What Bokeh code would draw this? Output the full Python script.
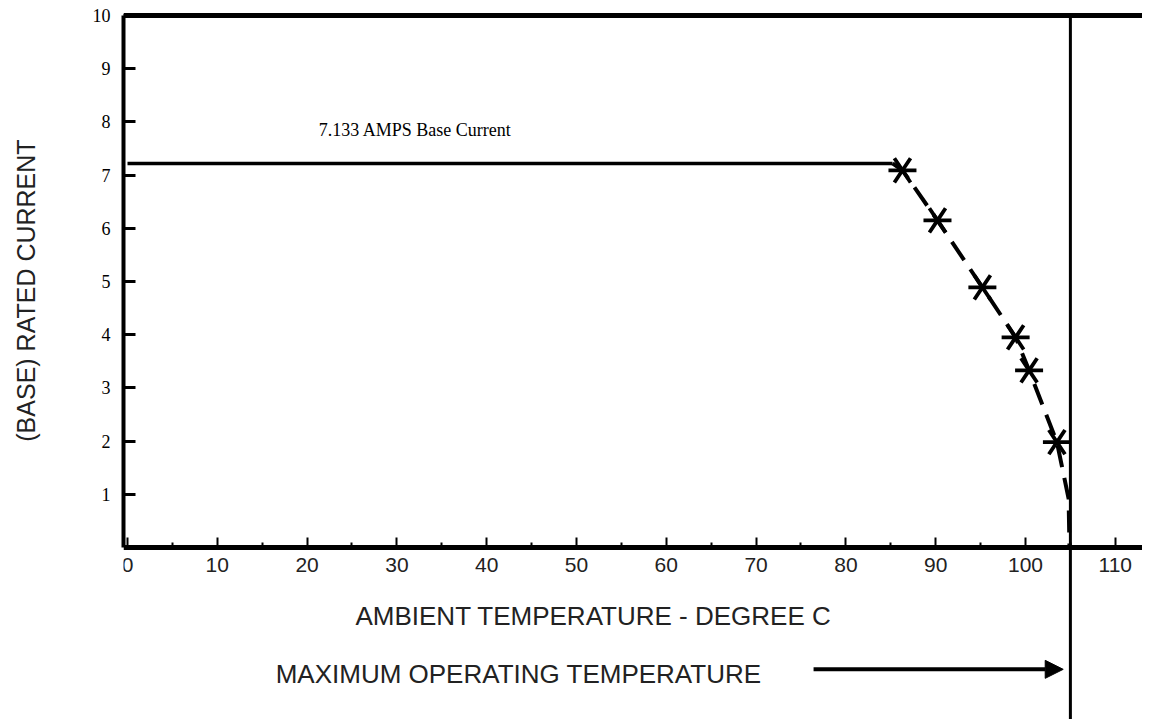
import math
from bokeh.plotting import figure
from bokeh.layouts import row
from bokeh.models import Span, Arrow, NormalHead, FixedTicker, Range1d
from bokeh.core.properties import value
from bokeh.embed import file_html
from bokeh.resources import INLINE

# ---- data ----
base_temp = [0.0, 85.2]
base_current = [7.22, 7.22]
star_temp = [86.3, 90.2, 95.2, 98.9, 100.4, 103.5]
star_current = [7.09, 6.15, 4.89, 3.95, 3.33, 1.98]
tail_temp = [104.8, 104.9]
tail_current = [0.92, 0.0]
max_temp = 105.0
top_current = 10.0
x_ticks = [0, 10, 20, 30, 40, 50, 60, 70, 80, 90, 100, 110]
x_minor = [5, 15, 25, 35, 45, 55, 65, 75, 85, 95, 105]
y_ticks = [1, 2, 3, 4, 5, 6, 7, 8, 9, 10]

curve_temp = [base_temp[-1]] + star_temp + tail_temp
curve_current = [base_current[-1]] + star_current + tail_current

LABEL_W = 45
X_START, X_END = -0.445, 113.03
Y_START, Y_END = -3.233, 10.094
yr = Range1d(Y_START, Y_END)

# narrow strip holding the vertical y-axis title
lab = figure(width=LABEL_W, height=719, x_range=(0, LABEL_W), y_range=yr,
             output_backend="svg", toolbar_location=None,
             x_axis_location=None, y_axis_location=None,
             min_border_left=0, min_border_right=0, min_border_top=10, min_border_bottom=0)
lab.grid.visible = False
lab.outline_line_color = None
lab.text(x=[25], y=[4.83], text=["(BASE) RATED CURRENT"], angle=math.pi / 2,
         text_font=value("Liberation Sans"), text_font_size="25px",
         text_align="center", text_baseline="middle", text_color="#222222")

p = figure(width=1142 - LABEL_W, height=719, x_range=(X_START, X_END), y_range=yr,
           output_backend="svg", toolbar_location=None,
           min_border_left=123 - LABEL_W, min_border_right=0, min_border_top=10, min_border_bottom=0)
p.grid.visible = False
p.outline_line_color = None
p.background_fill_color = "white"

# y axis
ya = p.yaxis[0]
ya.ticker = FixedTicker(ticks=y_ticks)
ya.bounds = (0, 10)
ya.axis_line_width = 4
ya.major_tick_in = 12
ya.major_tick_out = 0
ya.major_tick_line_width = 3
ya.minor_tick_line_color = None
ya.major_label_standoff = 13
ya.major_label_text_font = "Liberation Serif"
ya.major_label_text_font_size = "18px"
ya.major_label_text_color = "black"

# x axis, placed at current = 0 inside the frame
xa = p.xaxis[0]
xa.fixed_location = 0
xa.ticker = FixedTicker(ticks=x_ticks, minor_ticks=x_minor)
xa.axis_line_width = 5
xa.major_tick_in = 10
xa.major_tick_out = 0
xa.major_tick_line_width = 2
xa.minor_tick_in = 5
xa.minor_tick_out = 0
xa.minor_tick_line_width = 2
xa.major_label_standoff = 10
xa.major_label_text_font = "Liberation Sans"
xa.major_label_text_font_size = "21px"
xa.major_label_text_color = "#222222"

# top border
p.add_layout(Span(location=top_current, dimension="width", line_width=5, line_color="black"))

# maximum operating temperature line
p.segment(x0=[max_temp], y0=[top_current], x1=[max_temp], y1=[Y_START],
          line_width=3, line_color="black")

# base current line
p.line(base_temp, base_current, line_width=3.5, line_color="black")
# derating curve
p.line(curve_temp, curve_current, line_width=4, line_color="black", line_dash="22 11")
# asterisk points (6 arms)
p.scatter(star_temp, star_current, marker="y", size=28, angle=math.pi / 2,
          line_width=3.8, line_color="black")
p.scatter(star_temp, star_current, marker="y", size=28, angle=-math.pi / 2,
          line_width=3.8, line_color="black")

# texts
p.text(x=[21.3], y=[7.84], text=["7.133 AMPS Base Current"],
       text_font=value("Liberation Serif"), text_font_size="18px",
       text_align="left", text_baseline="middle", text_color="black")
p.text(x=[51.9], y=[-1.28], text=["AMBIENT TEMPERATURE - DEGREE C"],
       text_font=value("Liberation Sans"), text_font_size="26px",
       text_align="center", text_baseline="middle", text_color="#222222")
p.text(x=[16.5], y=[-2.37], text=["MAXIMUM OPERATING TEMPERATURE"],
       text_font=value("Liberation Sans"), text_font_size="26px",
       text_align="left", text_baseline="middle", text_color="#222222")

p.add_layout(Arrow(end=NormalHead(size=18, fill_color="black", line_color="black"),
                   x_start=76.4, y_start=-2.29, x_end=104.2, y_end=-2.29,
                   line_width=4, line_color="black"))

layout = row(lab, p, spacing=0)
open("out.html", "w").write(file_html(layout, INLINE))
